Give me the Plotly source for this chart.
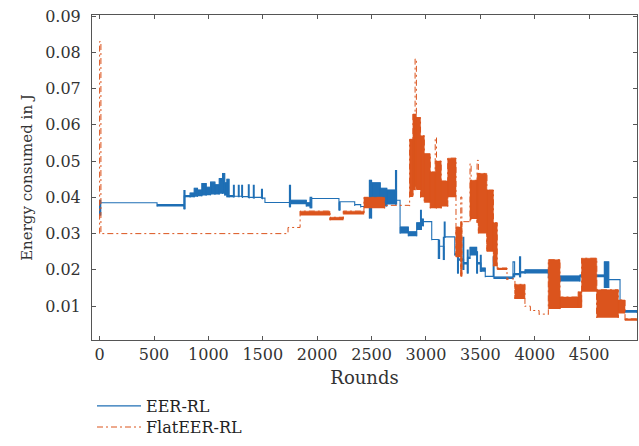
import plotly.graph_objects as go

# ---------------- data ----------------
# Each series is a sequence of constant segments [edge_i, edge_i+1];
# within a segment the energy oscillates between a low and a high value
# (equal values = a single flat step).

eer_edges = [0, 10, 528, 775, 785, 832, 870, 900, 940, 980,
             1020, 1060, 1100, 1130, 1150, 1170, 1190, 1230, 1238, 1275,
             1283, 1306, 1314, 1367, 1375, 1413, 1421, 1488, 1497, 1520,
             1745, 1755, 1900, 1935, 1950, 2200, 2210, 2345, 2400, 2480,
             2500, 2580, 2640, 2720, 2730, 2762, 2838, 2915, 2950, 2958,
             2976, 3053, 3114, 3125, 3160, 3168, 3176, 3265, 3290, 3298,
             3340, 3348, 3380, 3388, 3405, 3466, 3474, 3500, 3508, 3545,
             3618, 3626, 3800, 3815, 3860, 3870, 3911, 4125, 4232, 4416,
             4640, 4680, 4784, 4940]
eer_lo = [0.0350, 0.0385, 0.0375, 0.0367, 0.0400, 0.0400, 0.0402, 0.0403, 0.0405, 0.0406,
          0.0408, 0.0408, 0.0410, 0.0410, 0.0405, 0.0400, 0.0400, 0.0400, 0.0400, 0.0400,
          0.0400, 0.0400, 0.0398, 0.0398, 0.0397, 0.0397, 0.0396, 0.0396, 0.0395, 0.0386,
          0.0373, 0.0381, 0.0375, 0.0370, 0.0395, 0.0364, 0.0385, 0.0376, 0.0372, 0.0342,
          0.0395, 0.0375, 0.0380, 0.0380, 0.0390, 0.0300, 0.0293, 0.0310, 0.0310, 0.0320,
          0.0330, 0.0282, 0.0230, 0.0262, 0.0227, 0.0290, 0.0288, 0.0240, 0.0190, 0.0225,
          0.0200, 0.0215, 0.0190, 0.0230, 0.0240, 0.0190, 0.0215, 0.0195, 0.0195, 0.0180,
          0.0180, 0.0175, 0.0180, 0.0185, 0.0180, 0.0190, 0.0190, 0.0177, 0.0168, 0.0180,
          0.0150, 0.0170, 0.0082]
eer_hi = [0.0392, 0.0385, 0.0380, 0.0419, 0.0405, 0.0412, 0.0425, 0.0420, 0.0438, 0.0428,
          0.0442, 0.0435, 0.0452, 0.0466, 0.0440, 0.0450, 0.0405, 0.0433, 0.0403, 0.0433,
          0.0403, 0.0433, 0.0402, 0.0435, 0.0400, 0.0433, 0.0400, 0.0422, 0.0398, 0.0386,
          0.0433, 0.0392, 0.0385, 0.0400, 0.0397, 0.0386, 0.0388, 0.0380, 0.0375, 0.0447,
          0.0440, 0.0425, 0.0420, 0.0474, 0.0392, 0.0318, 0.0305, 0.0330, 0.0364, 0.0340,
          0.0333, 0.0284, 0.0282, 0.0265, 0.0290, 0.0332, 0.0291, 0.0245, 0.0245, 0.0230,
          0.0290, 0.0220, 0.0255, 0.0235, 0.0262, 0.0250, 0.0220, 0.0240, 0.0205, 0.0182,
          0.0236, 0.0180, 0.0222, 0.0190, 0.0236, 0.0195, 0.0200, 0.0180, 0.0183, 0.0186,
          0.0222, 0.0173, 0.0088]

flat_edges = [0, 12, 1732, 1843, 2118, 2240, 2430, 2620, 2850, 2880,
              2900, 2912, 2950, 2985, 3040, 3085, 3097, 3140, 3200, 3276,
              3320, 3330, 3405, 3415, 3470, 3482, 3560, 3620, 3655, 3745,
              3818, 3910, 3960, 4040, 4125, 4232, 4400, 4431, 4570, 4768,
              4830, 4940]
flat_lo = [0.0300, 0.0300, 0.0317, 0.0350, 0.0337, 0.0353, 0.0370, 0.0376, 0.0401, 0.0420,
           0.0430, 0.0420, 0.0400, 0.0385, 0.0370, 0.0370, 0.0370, 0.0375, 0.0400, 0.0235,
           0.0181, 0.0330, 0.0337, 0.0340, 0.0330, 0.0300, 0.0250, 0.0210, 0.0200, 0.0172,
           0.0120, 0.0098, 0.0087, 0.0077, 0.0092, 0.0095, 0.0095, 0.0140, 0.0068, 0.0080,
           0.0060]
flat_hi = [0.0830, 0.0300, 0.0317, 0.0362, 0.0345, 0.0362, 0.0400, 0.0378, 0.0560, 0.0630,
           0.0782, 0.0620, 0.0570, 0.0520, 0.0470, 0.0565, 0.0500, 0.0445, 0.0508, 0.0318,
           0.0401, 0.0333, 0.0493, 0.0447, 0.0502, 0.0466, 0.0420, 0.0330, 0.0205, 0.0175,
           0.0160, 0.0100, 0.0088, 0.0078, 0.0228, 0.0125, 0.0140, 0.0232, 0.0145, 0.0117,
           0.0065]

x_ticks = [0, 500, 1000, 1500, 2000, 2500, 3000, 3500, 4000, 4500]
y_ticks = [0.01, 0.02, 0.03, 0.04, 0.05, 0.06, 0.07, 0.08, 0.09]

BLUE = "#1F6FB5"
ORANGE = "#DB541D"


def outline(edges, lo, hi):
    xs, ys = [], []
    for i in range(len(lo)):
        x0, x1 = edges[i], edges[i + 1]
        xs += [x0, x0, x1, x1]
        ys += [lo[i], hi[i], hi[i], lo[i]]
    return xs, ys


def blocks(edges, lo, hi, min_width=15):
    # dense oscillation drawn as a filled block; a narrow spike keeps only the
    # part that sits inside the neighbouring blocks filled (the tip stays a line)
    n = len(lo)
    xs, ys = [], []
    for i in range(n):
        x0, x1 = edges[i], edges[i + 1]
        top = hi[i]
        if (x1 - x0) <= min_width:
            nb = [hi[j] for j in (i - 1, i + 1) if 0 <= j < n and (edges[j + 1] - edges[j]) > min_width]
            top = min(hi[i], max(nb) if nb else lo[i])
        if top - lo[i] < 0.0004:
            continue
        xs += [x0, x0, x1, x1, None]
        ys += [lo[i], top, top, lo[i], None]
    return xs, ys


fig = go.Figure()

bx, by = blocks(eer_edges, eer_lo, eer_hi)
fig.add_trace(go.Scatter(x=bx, y=by, mode="lines", fill="toself", fillcolor=BLUE,
                         line=dict(width=0.5, color=BLUE, simplify=False),
                         showlegend=False, hoverinfo="skip"))
ox, oy = outline(eer_edges, eer_lo, eer_hi)
fig.add_trace(go.Scatter(x=ox, y=oy, mode="lines", name="EER-RL", legend="legend",
                         line=dict(color=BLUE, width=1.1, simplify=False)))

ox2, oy2 = outline(flat_edges, flat_lo, flat_hi)
fig.add_trace(go.Scatter(x=ox2, y=oy2, mode="lines", name="FlatEER-RL", legend="legend2",
                         line=dict(color=ORANGE, width=1, dash="6px,3px,2px,3px", simplify=False)))
bx2, by2 = blocks(flat_edges, flat_lo, flat_hi)
fig.add_trace(go.Scatter(x=bx2, y=by2, mode="lines", fill="toself", fillcolor=ORANGE,
                         line=dict(width=0.5, color=ORANGE, simplify=False),
                         showlegend=False, hoverinfo="skip"))

legend_style = dict(xanchor="left", yanchor="middle",
                    font=dict(size=16, color="#222222"), bgcolor="rgba(0,0,0,0)",
                    itemwidth=44, borderwidth=0)

fig.update_layout(
    width=639, height=446,
    margin=dict(l=92, r=2, t=15, b=106),
    paper_bgcolor="white", plot_bgcolor="white",
    font=dict(family="DejaVu Serif", color="#333333"),
    showlegend=True,
    legend=dict(x=0.0, y=-0.203, **legend_style),
    legend2=dict(x=0.0, y=-0.268, **legend_style),
)
fig.update_xaxes(range=[-70, 4940], tickvals=x_ticks, ticktext=[str(v) for v in x_ticks],
                 ticks="inside", ticklen=4, tickcolor="#555555",
                 showline=True, mirror="ticks", linecolor="#555555", linewidth=1,
                 showgrid=False, zeroline=False, tickfont=dict(size=16), automargin=False,
                 title=dict(text="Rounds", font=dict(size=18), standoff=8))
fig.update_yaxes(range=[0.00066, 0.0903], tickvals=y_ticks, ticktext=[f"{v:.2f}" for v in y_ticks],
                 ticks="inside", ticklen=4, tickcolor="#555555",
                 showline=True, mirror="ticks", linecolor="#555555", linewidth=1,
                 showgrid=False, zeroline=False, tickfont=dict(size=16), automargin=False,
                 ticklabelstandoff=7,
                 title=dict(text="Energy consumed in J", font=dict(size=15), standoff=8))

fig.write_html("out.html", config={"displayModeBar": False},
               post_script="document.body.style.margin='0';document.body.style.padding='0';")
